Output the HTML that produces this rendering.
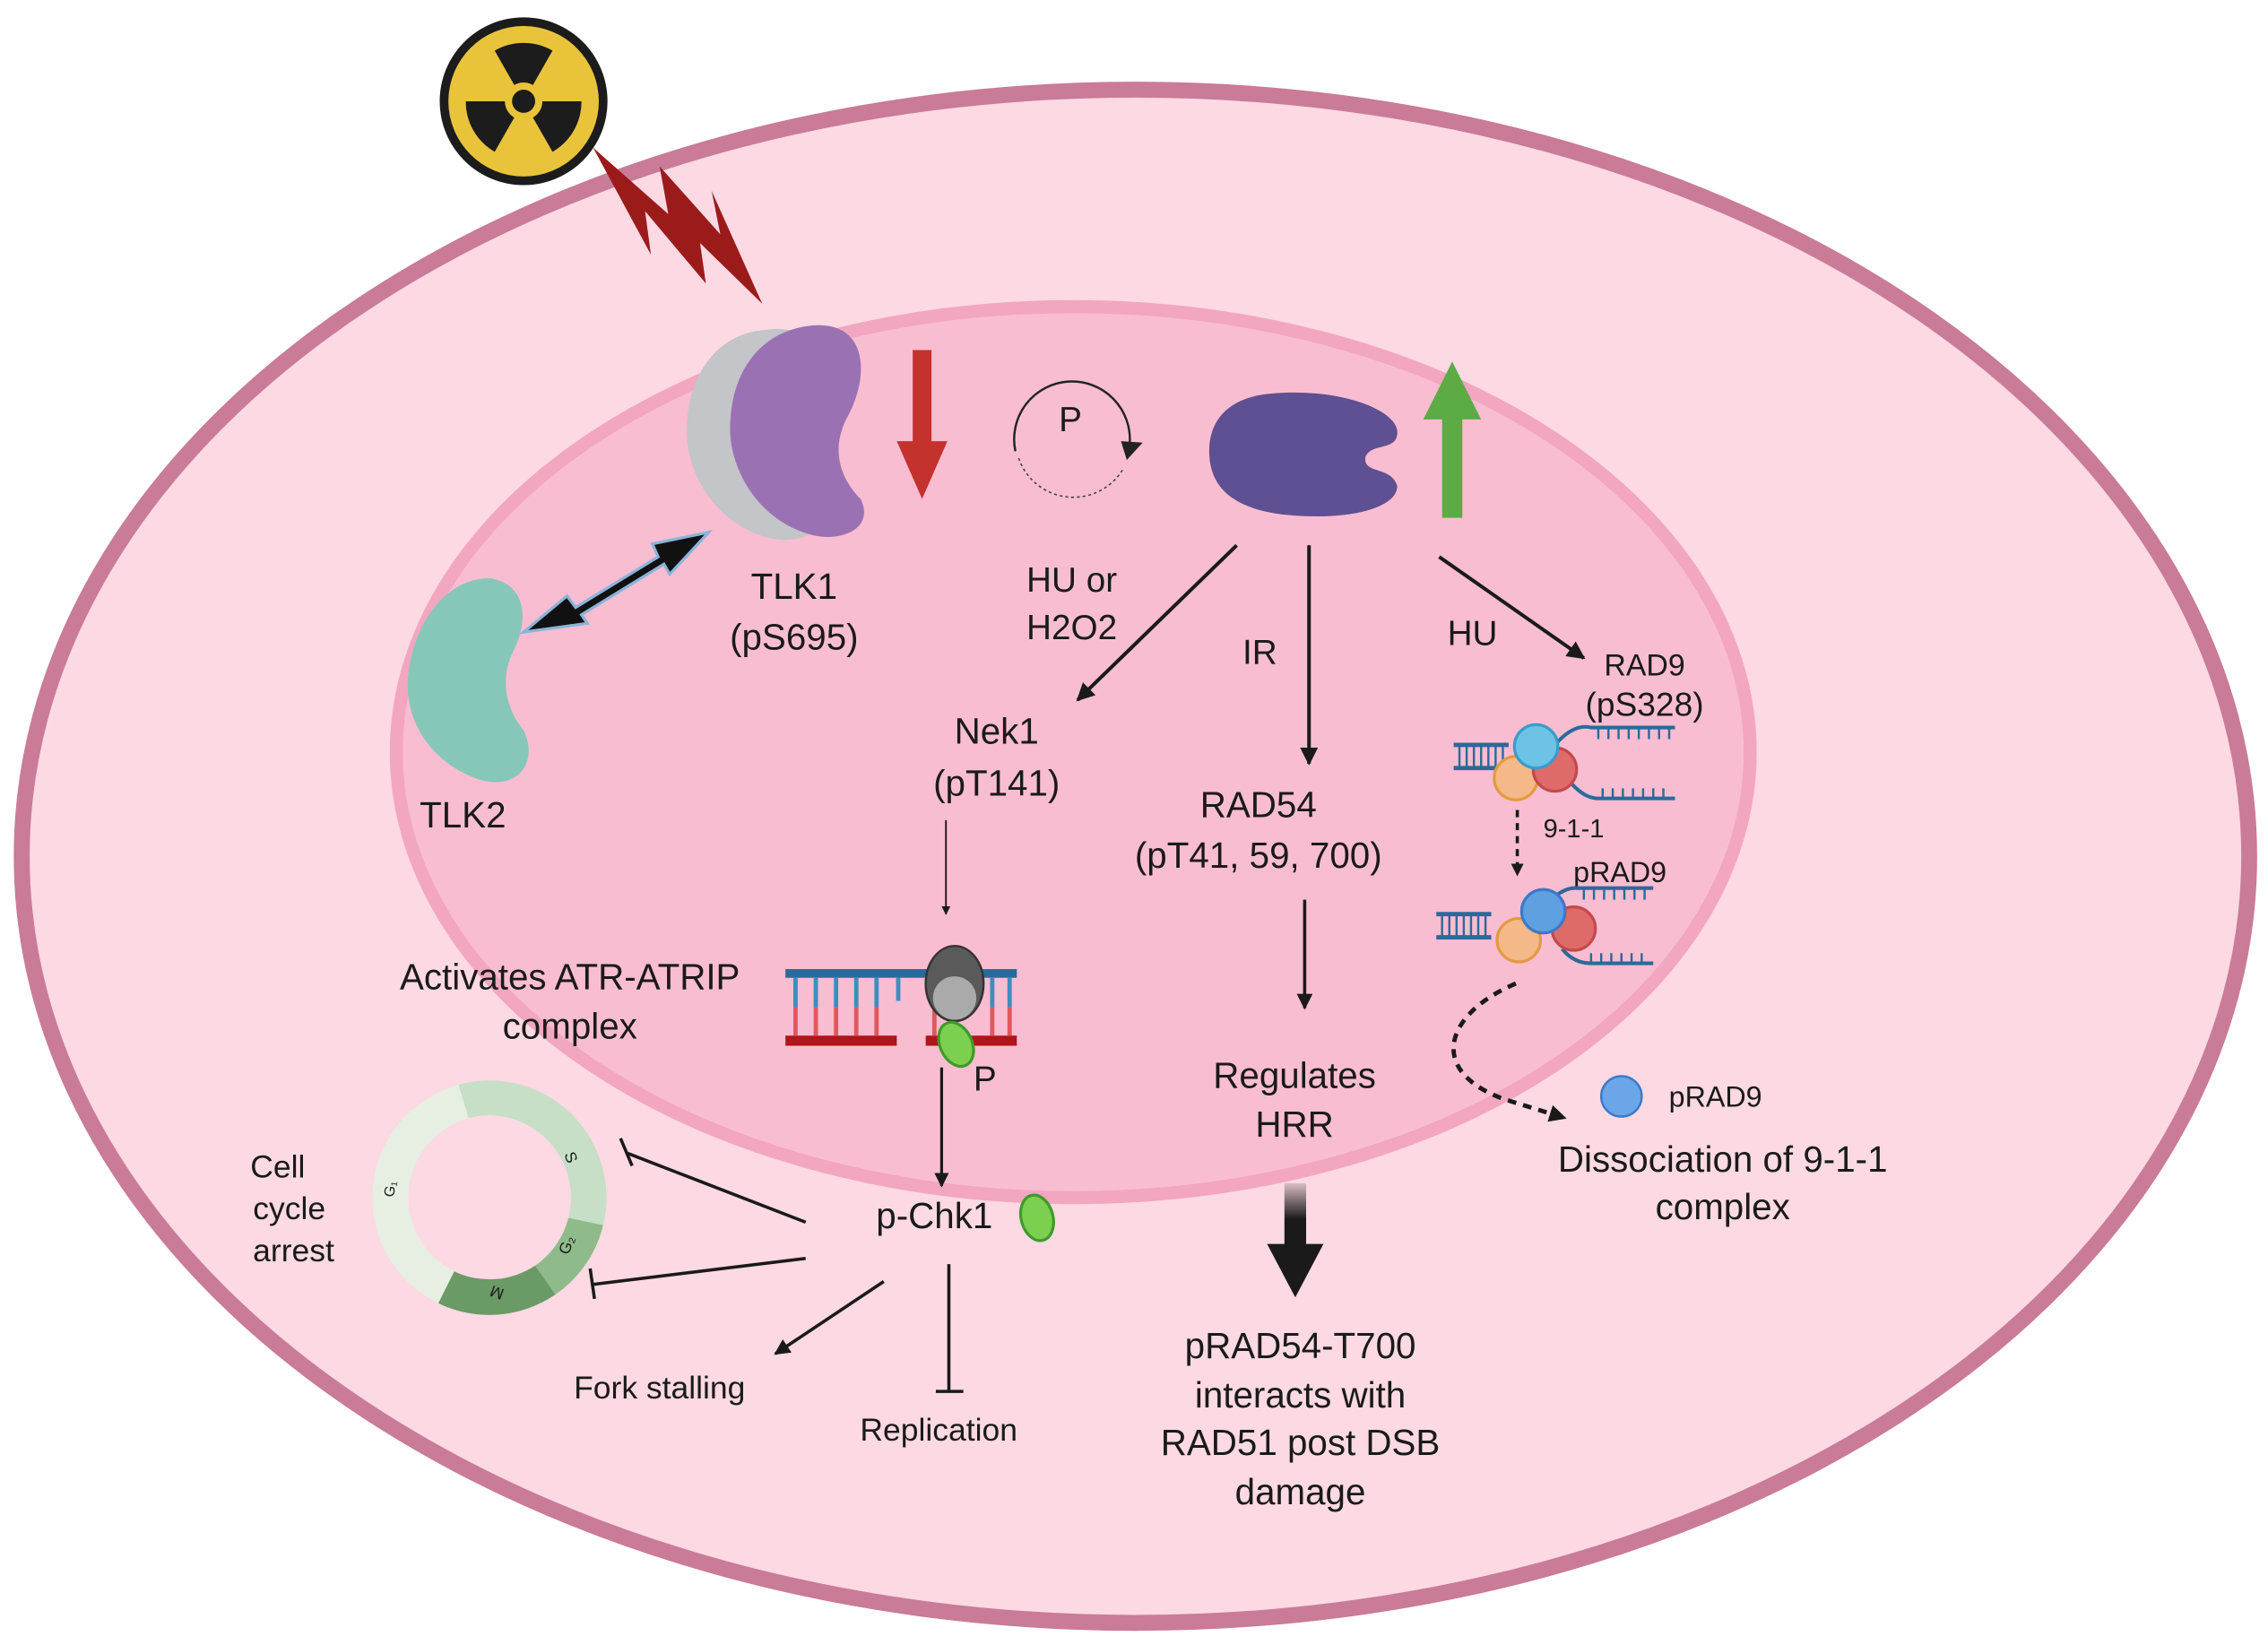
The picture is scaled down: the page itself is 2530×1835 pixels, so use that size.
<!DOCTYPE html>
<html><head><meta charset="utf-8"><style>
html,body{margin:0;padding:0;background:#fff}
svg{display:block}
text{font-family:"Liberation Sans",sans-serif;fill:#1a1a1a}
</style></head><body>
<svg width="2530" height="1835" viewBox="0 0 1568 1137.3" preserveAspectRatio="none" xmlns="http://www.w3.org/2000/svg">
<defs>
<marker id="ah" viewBox="0 0 10 10" refX="9" refY="5" markerWidth="5" markerHeight="5" orient="auto"><path d="M0 0L10 5L0 10z" fill="#1a1a1a"/></marker>
<marker id="ahs" viewBox="0 0 10 10" refX="9" refY="5" markerWidth="4" markerHeight="4" orient="auto"><path d="M0 0L10 5L0 10z" fill="#1a1a1a"/></marker>
<g id="dna">
<path d="M0 0H38 M0 16H38" stroke="#2a6a9a" stroke-width="3"/>
<path d="M4 0V16M9 0V16M14 0V16M19 0V16M24 0V16M29 0V16M34 0V16" stroke="#2a6a9a" stroke-width="1.5"/>
</g>
</defs>
<rect width="1568" height="1137.3" fill="#fff"/>
<ellipse cx="785" cy="592" rx="770" ry="530" fill="#fcd9e3" stroke="#c97b98" stroke-width="11"/>
<ellipse cx="742" cy="520" rx="468" ry="308" fill="#f9bdd1" stroke="#f2a6c0" stroke-width="9"/>

<circle cx="362" cy="70" r="58" fill="#1c1c1c"/>
<circle cx="362" cy="70" r="52" fill="#e9c43a"/>
<g fill="#1c1c1c">
<path d="M362 70 L342 35 A40 40 0 0 1 382 35 Z"/>
<path d="M362 70 L402 70 A40 40 0 0 1 382 105 Z"/>
<path d="M362 70 L342 105 A40 40 0 0 1 322 70 Z"/>
</g>
<circle cx="362" cy="70" r="13" fill="#e9c43a"/>
<circle cx="362" cy="70" r="8" fill="#1c1c1c"/>
<path d="M410 102 L462 148 L456 115 L498 162 L492 132 L527 210 L484 168 L488 196 L446 146 L450 176 Z" fill="#9b1b1b"/>

<path d="M530 228 C570 222 575 262 558 292 C548 312 552 332 567 347 C577 367 552 377 532 372 C492 362 472 322 475 292 C477 257 497 230 530 228 Z" fill="#c3c5c8"/>
<path d="M562 225 C600 222 602 260 585 290 C575 310 580 330 595 345 C605 365 582 375 562 370 C522 360 502 320 505 290 C507 255 527 228 562 225 Z" fill="#9a72b3"/>
<path d="M340 400 C365 405 365 430 355 450 C345 470 350 490 362 505 C372 525 360 545 335 540 C300 530 280 500 282 470 C285 430 310 398 340 400 Z" fill="#86c7b9"/>
<path d="M362 437 L392 412 L398 420 L455 385 L451 376 L490 368 L463 397 L459 390 L402 425 L406 431 Z" fill="#111" stroke="#8ab4d8" stroke-width="2"/>

<rect x="631" y="242" width="13" height="70" fill="#c4322e"/>
<path d="M620 305 L655 305 L637.5 345 Z" fill="#c4322e"/>
<path d="M702 312 A40 40 0 1 1 781 307" fill="none" stroke="#222" stroke-width="1.5"/>
<path d="M776 325 A40 40 0 0 1 704 316" fill="none" stroke="#444" stroke-width="1" stroke-dasharray="2 2"/>
<path d="M775 305 L790 306 L779 318 Z" fill="#222"/>
<text x="740" y="298" font-size="24" text-anchor="middle">P</text>
<path d="M880 272 C930 268 968 285 966 300 C965 312 948 306 944 316 C942 328 962 322 966 336 C966 352 930 360 890 356 C850 352 836 335 836 312 C836 288 852 274 880 272 Z" fill="#5f4f93"/>
<rect x="997" y="282" width="14" height="76" fill="#5cab45"/>
<path d="M984 290 L1024 290 L1004 250 Z" fill="#5cab45"/>

<text x="549" y="414" font-size="25" text-anchor="middle">TLK1</text>
<text x="549" y="449" font-size="25" text-anchor="middle">(pS695)</text>
<text x="320" y="572" font-size="25" text-anchor="middle">TLK2</text>
<text x="741" y="409" font-size="24" text-anchor="middle">HU or</text>
<text x="741" y="442" font-size="24" text-anchor="middle">H2O2</text>
<text x="871" y="459" font-size="24" text-anchor="middle">IR</text>
<text x="1018" y="446" font-size="24" text-anchor="middle">HU</text>
<text x="1137" y="467" font-size="21" text-anchor="middle">RAD9</text>
<text x="1137" y="495" font-size="23" text-anchor="middle">(pS328)</text>
<text x="689" y="514" font-size="25" text-anchor="middle">Nek1</text>
<text x="689" y="550" font-size="25" text-anchor="middle">(pT141)</text>
<text x="870" y="565" font-size="25" text-anchor="middle">RAD54</text>
<text x="870" y="600" font-size="25" text-anchor="middle">(pT41, 59, 700)</text>
<text x="394" y="684" font-size="25" text-anchor="middle">Activates ATR-ATRIP</text>
<text x="394" y="718" font-size="25" text-anchor="middle">complex</text>
<text x="895" y="752" font-size="25" text-anchor="middle">Regulates</text>
<text x="895" y="786" font-size="25" text-anchor="middle">HRR</text>

<line x1="855" y1="377" x2="745" y2="484" stroke="#1a1a1a" stroke-width="2.5" marker-end="url(#ah)"/>
<line x1="905" y1="377" x2="905" y2="528" stroke="#1a1a1a" stroke-width="2.5" marker-end="url(#ah)"/>
<line x1="995" y1="385" x2="1095" y2="455" stroke="#1a1a1a" stroke-width="2.5" marker-end="url(#ah)"/>
<line x1="654" y1="567" x2="654" y2="632" stroke="#1a1a1a" stroke-width="1.2" marker-end="url(#ah)"/>
<line x1="902" y1="622" x2="902" y2="697" stroke="#1a1a1a" stroke-width="2.2" marker-end="url(#ah)"/>

<rect x="543" y="670" width="160" height="6" fill="#2a6a9a"/>
<rect x="543" y="716" width="77" height="7" fill="#b0151b"/>
<rect x="640" y="716" width="63" height="7" fill="#b0151b"/>
<g stroke-width="3">
<path d="M550 676V696M564 676V696M578 676V696M592 676V696M606 676V696M686 676V696M698 676V696" stroke="#3a8fbf"/>
<path d="M550 696V716M564 696V716M578 696V716M592 696V716M606 696V716M646 696V716M686 696V716M698 696V716" stroke="#e0585d"/>
<path d="M621 676V692" stroke="#3a8fbf"/>
</g>
<ellipse cx="660" cy="680" rx="20" ry="26" fill="#5a5a5a" stroke="#333" stroke-width="1.5"/>
<ellipse cx="660" cy="690" rx="15" ry="15" fill="#aaa"/>
<ellipse cx="661" cy="722" rx="11" ry="16" fill="#7dd04f" stroke="#3f9a2a" stroke-width="2" transform="rotate(-25 661 722)"/>
<text x="681" y="754" font-size="24" text-anchor="middle">P</text>
<line x1="651" y1="738" x2="651" y2="820" stroke="#1a1a1a" stroke-width="2" marker-end="url(#ah)"/>

<text x="646" y="849" font-size="25" text-anchor="middle">p-Chk1</text>
<ellipse cx="717" cy="842" rx="11" ry="16" fill="#7dd04f" stroke="#3f9a2a" stroke-width="2" transform="rotate(-15 717 842)"/>

<g transform="translate(338,828)">
<path d="M0 -81 A81 81 0 0 1 79 19 L55 14 A57 57 0 0 0 0 -57 Z" fill="#c6dfc6"/>
<path d="M-21 -78 A81 81 0 0 1 0 -81 L0 -57 A57 57 0 0 0 -14 -55 Z" fill="#c6dfc6"/>
<path d="M79 19 A81 81 0 0 1 46 67 L32 47 A57 57 0 0 0 55 14 Z" fill="#8fbb8a"/>
<path d="M46 67 A81 81 0 0 1 -35 73 L-24 51 A57 57 0 0 0 32 47 Z" fill="#6a9a66"/>
<path d="M-35 73 A81 81 0 0 1 -21 -78 L-14 -55 A57 57 0 0 0 -24 51 Z" fill="#e6efe2"/>
<text x="-66" y="0" font-size="10" transform="rotate(-80 -66 0)">G₁</text>
<text x="52" y="-30" font-size="11" transform="rotate(70 52 -30)">S</text>
<text x="55" y="40" font-size="11" transform="rotate(-70 55 40)">G₂</text>
<text x="2" y="70" font-size="11" transform="rotate(200 6 66)">M</text>
</g>
<text x="192" y="814" font-size="22" text-anchor="middle">Cell</text>
<text x="200" y="843" font-size="22" text-anchor="middle">cycle</text>
<text x="203" y="872" font-size="22" text-anchor="middle">arrest</text>
<line x1="557" y1="845" x2="433" y2="797" stroke="#1a1a1a" stroke-width="2.2"/>
<line x1="429" y1="787" x2="437" y2="806" stroke="#1a1a1a" stroke-width="2.2"/>
<line x1="557" y1="870" x2="410" y2="888" stroke="#1a1a1a" stroke-width="2.2"/>
<line x1="408" y1="877" x2="411" y2="898" stroke="#1a1a1a" stroke-width="2.2"/>
<line x1="611" y1="886" x2="536" y2="936" stroke="#1a1a1a" stroke-width="2.2" marker-end="url(#ah)"/>
<line x1="656" y1="874" x2="656" y2="962" stroke="#1a1a1a" stroke-width="2.2"/>
<line x1="647" y1="962" x2="666" y2="962" stroke="#1a1a1a" stroke-width="2.2"/>
<text x="456" y="967" font-size="22" text-anchor="middle">Fork stalling</text>
<text x="649" y="996" font-size="22" text-anchor="middle">Replication</text>

<defs><linearGradient id="g1" x1="0" y1="0" x2="0" y2="1"><stop offset="0" stop-color="#1a1a1a" stop-opacity="0.15"/><stop offset="0.5" stop-color="#1a1a1a"/></linearGradient></defs>
<rect x="888" y="818" width="15" height="50" fill="url(#g1)"/>
<path d="M876 860 L915 860 L895.5 897 Z" fill="#1a1a1a"/>
<text x="899" y="939" font-size="25" text-anchor="middle">pRAD54-T700</text>
<text x="899" y="973" font-size="25" text-anchor="middle">interacts with</text>
<text x="899" y="1006" font-size="25" text-anchor="middle">RAD51 post DSB</text>
<text x="899" y="1040" font-size="25" text-anchor="middle">damage</text>

<use href="#dna" x="1005" y="515"/>
<path d="M1075 515 Q1088 500 1100 503 H1158 M1085 540 Q1095 552 1105 552 H1158" fill="none" stroke="#2a6a9a" stroke-width="2.5"/>
<path d="M1105 503v8M1112 503v8M1119 503v8M1126 503v8M1133 503v8M1140 503v8M1147 503v8M1154 503v8M1108 552v-7M1115 552v-7M1122 552v-7M1129 552v-7M1136 552v-7M1143 552v-7M1150 552v-7" stroke="#2a6a9a" stroke-width="1.5"/>
<circle cx="1048" cy="538" r="15" fill="#f5b989" stroke="#e39a3f" stroke-width="2"/>
<circle cx="1075" cy="532" r="15" fill="#df6a6a" stroke="#c24a4a" stroke-width="2"/>
<circle cx="1062" cy="516" r="15" fill="#6dc3e6" stroke="#3a9cc8" stroke-width="2"/>
<text x="1088" y="579" font-size="18" text-anchor="middle">9-1-1</text>
<line x1="1049" y1="560" x2="1049" y2="605" stroke="#1a1a1a" stroke-width="2.2" stroke-dasharray="5 4" marker-end="url(#ahs)"/>
<text x="1120" y="610" font-size="20" text-anchor="middle">pRAD9</text>
<use href="#dna" x="993" y="632"/>
<path d="M1066 628 Q1080 613 1090 614 H1143 M1080 656 Q1088 666 1100 666 H1143" fill="none" stroke="#2a6a9a" stroke-width="2.5"/>
<path d="M1095 614v8M1102 614v8M1109 614v8M1116 614v8M1123 614v8M1130 614v8M1137 614v8M1100 666v-7M1107 666v-7M1114 666v-7M1121 666v-7M1128 666v-7M1135 666v-7" stroke="#2a6a9a" stroke-width="1.5"/>
<circle cx="1050" cy="650" r="15" fill="#f5b989" stroke="#e39a3f" stroke-width="2"/>
<circle cx="1088" cy="642" r="15" fill="#df6a6a" stroke="#c24a4a" stroke-width="2"/>
<circle cx="1067" cy="630" r="15" fill="#5fa0e0" stroke="#3a7ac8" stroke-width="2"/>
<path d="M1048 680 C1000 700 985 740 1040 760 L1082 773" fill="none" stroke="#1a1a1a" stroke-width="3" stroke-dasharray="6 5" marker-end="url(#ahs)"/>
<circle cx="1121" cy="758" r="14" fill="#6aa6e8" stroke="#3a7ac8" stroke-width="1.5"/>
<text x="1186" y="765" font-size="20" text-anchor="middle">pRAD9</text>
<text x="1191" y="810" font-size="25" text-anchor="middle">Dissociation of 9-1-1</text>
<text x="1191" y="843" font-size="25" text-anchor="middle">complex</text>
</svg>
</body></html>
